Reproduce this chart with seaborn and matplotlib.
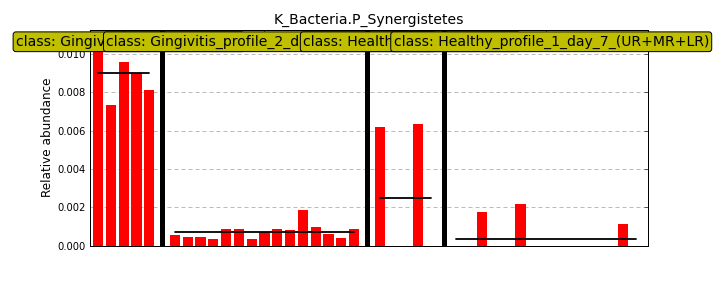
import numpy as np
import pandas as pd
import matplotlib
matplotlib.use("Agg")
import matplotlib.pyplot as plt
import seaborn as sns
from matplotlib.transforms import blended_transform_factory

# ---------------- data ----------------
title = "K_Bacteria.P_Synergistetes"
ylabel = "Relative abundance"
classes = [
    "Gingivitis_profile_1_day_0",
    "Gingivitis_profile_2_day_7_(UR+MR+LR)",
    "Healthy_profile_1_day_0",
    "Healthy_profile_1_day_7_(UR+MR+LR)",
]
vals_gingivitis_1 = [0.01104, 0.00734, 0.00958, 0.00902, 0.00812]
vals_gingivitis_2 = [0.00054, 0.00043, 0.00043, 0.00033, 0.00085, 0.00085,
                     0.00033, 0.00069, 0.00085, 0.00080, 0.00184, 0.00096,
                     0.00059, 0.00038, 0.00085]
vals_healthy_1 = [0.00617, 0.0, 0.0, 0.00633, 0.0]
vals_healthy_2 = [0.0, 0.0, 0.00174, 0.0, 0.0, 0.00216, 0.0, 0.0,
                  0.0, 0.0, 0.0, 0.0, 0.0, 0.00111, 0.0]
yticks = [0.000, 0.002, 0.004, 0.006, 0.008, 0.010]
all_vals = [vals_gingivitis_1, vals_gingivitis_2, vals_healthy_1, vals_healthy_2]

# ---------------- build slots ----------------
rows = []
order = []
groups = []  # (first slot, last slot)
separators = []
k = 0
for ci, (cls, vals) in enumerate(zip(classes, all_vals)):
    first = k
    for v in vals:
        name = f"s{k}"
        order.append(name)
        rows.append({"slot": name, "value": v, "cls": cls})
        k += 1
    groups.append((first, k - 1))
    if ci < len(classes) - 1:
        order.append(f"sep{k}")
        separators.append(k)
        k += 1
df = pd.DataFrame(rows)

# ---------------- figure ----------------
sns.set_theme(style="white", color_codes=False)
plt.rcParams["font.family"] = ["DejaVu Sans"]
plt.rcParams["text.color"] = "black"
plt.rcParams["axes.labelcolor"] = "black"
plt.rcParams["axes.titlecolor"] = "black"
fig = plt.figure(figsize=(10, 4), dpi=72)
ax = fig.add_axes([0.125, 0.147, 0.775, 0.75])

sns.barplot(data=df, x="slot", y="value", order=order, color="#ff0000",
            saturation=1, width=0.8, errorbar=None, ax=ax, linewidth=0,
            zorder=2)

for s in separators:
    ax.axvline(s, color="black", lw=5, zorder=3)

means = [float(np.mean(v)) for v in all_vals]
for (a, b), m in zip(groups, means):
    ax.plot([a, b], [m, m], color="black", lw=1.8, zorder=4)

ax.set_xlim(-0.63, 42.96)
ax.set_ylim(0, 1.25 * max(means))
ax.set_yticks(yticks)
ax.set_yticklabels([f"{t:.3f}" for t in yticks], fontsize=10)
centers = [(a + b) / 2 for a, b in groups]
ax.set_xticks(centers)
ax.set_xticklabels([""] * len(centers))
ax.set_xlabel("")
ax.set_ylabel(ylabel, fontsize=12)
ax.tick_params(direction="in", top=True, right=True, length=4, width=1,
               colors="#555555", labelcolor="black", pad=4)
ax.yaxis.grid(True, color="#bbbbbb", lw=1, dashes=(4, 3))
ax.set_axisbelow(True)
for sp in ax.spines.values():
    sp.set_color("black")
    sp.set_linewidth(1)

ax.set_title(title, fontsize=14, pad=6, color="black")

tr = blended_transform_factory(ax.transData, ax.transAxes)
for c, cls in zip(centers, classes):
    ax.text(c + 0.4, 0.944, "class: " + cls, transform=tr, ha="center",
            va="center", fontsize=14, zorder=10, clip_on=False, color="black",
            bbox=dict(boxstyle="round,pad=0.2", fc=(0.75, 0.75, 0.0),
                      ec="black", lw=1))

fig.savefig("out.png", dpi=72)
